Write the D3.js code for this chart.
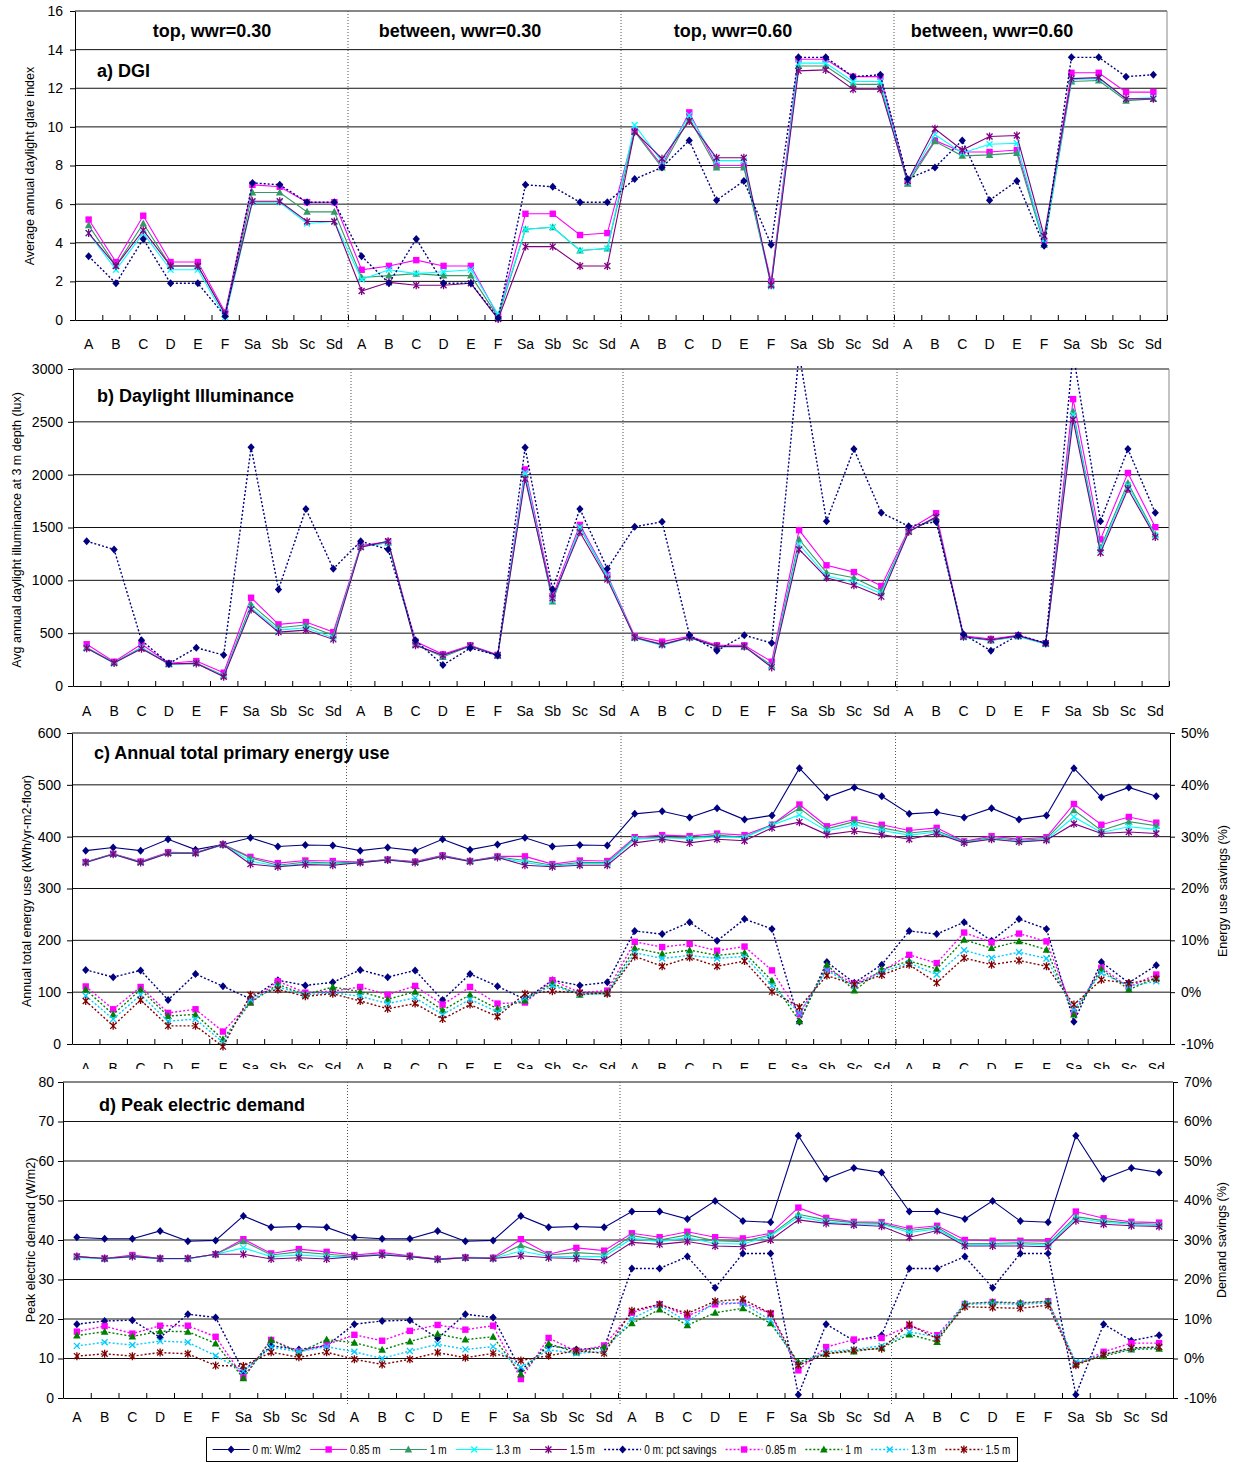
<!DOCTYPE html>
<html><head><meta charset="utf-8">
<script src="https://cdn.jsdelivr.net/npm/d3@7"></script>
<style>
body{margin:0;background:#fff;}
</style></head><body>
<svg id="chart" width="1238" height="1462"></svg>
<script>
// ---------- categories ----------
const cats = ["A","B","C","D","E","F","Sa","Sb","Sc","Sd"];
const groupTitles = ["top, wwr=0.30","between, wwr=0.30","top, wwr=0.60","between, wwr=0.60"];
const legendLabels = ["0 m: W/m2","0.85 m","1 m","1.3 m","1.5 m","0 m: pct savings","0.85 m","1 m","1.3 m","1.5 m"];

// ---------- a) DGI ----------
const dgi_085 = [5.2,3.0,5.4,3.0,3.0,0.4,7.0,6.9,6.1,6.1, 2.6,2.8,3.1,2.8,2.8,0.2,5.5,5.5,4.4,4.5, 9.8,8.0,10.75,8.0,8.0,2.0,13.5,13.5,12.6,12.6, 7.2,9.3,8.7,8.7,8.8,4.1,12.8,12.8,11.8,11.8];
const dgi_1   = [4.9,2.8,5.0,2.8,2.8,0.3,6.6,6.6,5.6,5.6, 2.2,2.3,2.4,2.3,2.3,0.15,4.7,4.8,3.6,3.7, 9.75,7.9,10.45,7.9,7.9,1.85,13.15,13.15,12.2,12.2, 7.05,9.25,8.5,8.55,8.65,3.9,12.35,12.4,11.35,11.45];
const dgi_13  = [4.5,2.6,4.5,2.6,2.6,0.15,6.1,6.1,5.0,5.1, 2.1,2.6,2.4,2.5,2.6,0.3,4.7,4.8,3.6,3.7, 10.1,8.2,10.6,8.25,8.25,1.75,13.3,13.3,12.35,12.35, 7.15,9.6,8.65,9.1,9.15,4.0,12.45,12.5,11.45,11.5];
const dgi_15  = [4.5,2.8,4.65,2.8,2.8,0.3,6.15,6.15,5.1,5.1, 1.5,1.95,1.8,1.8,1.9,0.05,3.8,3.8,2.8,2.8, 9.75,8.35,10.3,8.4,8.4,1.8,12.9,12.95,11.95,11.95, 7.2,9.9,8.8,9.5,9.55,4.35,12.5,12.55,11.45,11.45];
const dgi_ref = [3.3,1.9,4.2,1.9,1.9,0.2,7.1,7.0,6.1,6.1, 3.3,1.9,4.2,1.9,1.9,0.1,7.0,6.9,6.1,6.1, 7.3,7.9,9.3,6.2,7.2,3.9,13.6,13.6,12.6,12.7, 7.3,7.9,9.3,6.2,7.2,3.85,13.6,13.6,12.6,12.7];

// ---------- b) Daylight illuminance ----------
const ill_085 = [395,230,395,215,236,126,835,583,605,510, 1330,1365,420,300,385,295,2050,850,1525,1050, 470,420,470,385,385,230,1475,1142,1078,946, 1480,1635,475,445,480,405,2715,1387,2016,1503];
const ill_1   = [365,222,365,205,218,100,772,551,577,479, 1320,1355,395,275,378,285,2000,800,1497,1030, 460,395,460,372,372,195,1387,1073,1025,899, 1465,1590,465,430,470,400,2597,1308,1922,1434];
const ill_13  = [360,215,362,208,214,95,740,529,551,457, 1315,1355,390,285,380,285,2016,810,1500,1040, 455,385,458,372,372,185,1340,1041,984,875, 1462,1600,462,432,468,398,2570,1290,1897,1425];
const ill_15  = [358,218,353,210,214,88,725,510,529,441, 1314,1370,385,290,378,290,1960,830,1456,1009, 458,392,460,375,375,176,1292,1025,953,846, 1460,1600,465,437,475,403,2519,1261,1865,1409];
const ill_ref = [1370,1292,432,211,362,293,2259,914,1676,1109, 1370,1292,432,198,359,290,2257,915,1676,1110, 1507,1554,481,333,481,406,3150,1560,2242,1639, 1512,1554,490,333,481,406,3150,1560,2242,1639];

// ---------- c) Annual total primary energy use (kWh/yr-m2-floor) ----------
const energy_0   = [373,379,373,395,375,385,398,381,384,383, 373,379,373,395,375,385,398,381,384,383, 444,449,437,455,433,441,532,476,495,478, 444,447,437,455,433,441,532,476,495,478];
const energy_085 = [351,367,352,370,369,385,361,349,354,353, 351,356,352,364,353,362,362,347,354,353, 399,403,401,406,403,423,462,420,433,423, 412,417,391,401,395,399,463,423,438,427];
const energy_1   = [351,367,351,369,369,385,359,345,351,349, 351,356,351,363,353,361,354,345,350,350, 397,399,398,403,399,423,455,415,429,417, 407,412,390,398,393,396,451,412,429,421];
const energy_13  = [350,366,350,368,368,384,353,343,348,347, 350,355,350,362,352,360,350,343,348,348, 395,398,396,400,398,422,442,411,423,412, 403,409,389,396,391,394,438,408,419,414];
const energy_15  = [350,366,350,368,368,385,347,342,346,345, 350,355,350,362,352,360,345,342,345,345, 388,395,388,395,392,417,428,404,411,404, 395,406,388,395,390,393,425,406,409,406];
// energy savings (%)
const esave_0   = [4.3,2.9,4.2,-1.5,3.5,1.15,-1.3,2.3,1.3,1.9, 4.3,2.9,4.2,-1.5,3.5,1.15,-1.4,2.3,1.3,1.9, 11.8,11.2,13.5,9.9,14.1,12.2,-5.7,5.8,1.8,5.3, 11.8,11.2,13.5,9.9,14.1,12.2,-5.7,5.8,1.8,5.2];
const esave_085 = [1.1,-3.3,1.0,-4.0,-3.3,-7.6,-2.0,2.1,-0.1,0.2, 1.0,-0.5,1.2,-2.4,1.0,-2.2,-2.0,2.3,-0.1,0.3, 9.7,8.7,9.3,8.0,8.8,4.2,-4.2,4.5,1.6,4.0, 7.2,5.6,11.5,9.6,11.3,9.8,-4.0,4.7,1.0,3.4];
const esave_1   = [0.5,-4.3,0.5,-4.6,-4.3,-9.1,-2.0,1.5,-0.5,1.0, 0.1,-1.4,0.1,-3.5,-0.5,-3.2,-1.6,1.7,-0.5,-0.2, 8.5,7.4,8.1,7.1,7.6,2.2,-5.6,5.3,0.3,4.4, 6.0,4.5,10.1,8.5,9.8,8.2,-4.3,4.4,0.5,2.75];
const esave_13  = [-0.7,-5.2,-0.5,-5.6,-5.2,-9.7,-1.4,1.0,-0.5,-0.1, -0.8,-2.2,-1.1,-4.3,-1.4,-3.8,-1.1,1.2,-0.3,-0.3, 7.6,6.5,7.1,6.5,6.9,1.3,-4.0,4.2,1.2,3.9, 5.6,3.4,8.1,6.6,7.7,6.5,-3.3,3.7,1.2,2.1];
const esave_15  = [-1.7,-6.5,-1.5,-6.5,-6.5,-10.5,-0.5,0.5,-0.8,-0.3, -1.7,-3.2,-2.2,-5.2,-2.4,-4.7,-0.3,0.2,-0.1,-0.3, 6.9,5.0,6.7,5.0,6.0,0.1,-2.9,3.2,1.5,3.3, 5.3,1.8,6.6,5.3,6.1,5.0,-2.4,2.4,1.7,2.6];

// ---------- d) Peak electric demand (W/m2) ----------
const peak_0   = [40.7,40.3,40.3,42.3,39.7,39.9,46.1,43.2,43.4,43.2, 40.7,40.3,40.3,42.3,39.7,39.9,46.1,43.2,43.4,43.2, 47.2,47.2,45.3,49.9,44.8,44.5,66.4,55.5,58.2,57.1, 47.2,47.2,45.3,49.9,44.8,44.5,66.4,55.5,58.2,57.1];
const peak_085 = [35.8,35.3,36.2,35.3,35.3,36.4,40.2,36.6,37.7,37.0, 36.2,36.8,36.0,35.2,35.6,35.5,40.2,36.4,38.0,37.3, 41.7,40.7,42.1,40.7,40.4,41.7,48.2,45.6,44.6,44.5, 42.9,43.6,40.0,39.8,39.8,39.7,47.2,45.5,44.6,44.4];
const peak_1   = [35.8,35.3,36.0,35.3,35.3,36.4,39.7,36.2,37.0,36.4, 35.9,36.4,35.9,35.1,35.5,35.4,38.7,36.2,36.8,36.4, 41.1,40.0,41.3,39.8,39.6,41.3,46.5,45.1,44.4,44.2, 42.4,43.2,39.1,39.1,39.3,39.1,45.9,44.9,44.2,44.0];
const peak_13  = [35.6,35.2,35.8,35.2,35.2,36.4,38.0,35.8,36.2,35.8, 35.8,36.3,35.8,35.1,35.5,35.3,37.2,35.9,35.8,35.8, 40.4,39.6,40.6,39.1,39.0,41.0,45.9,44.6,44.0,44.0, 41.9,42.8,38.9,38.9,39.0,38.7,45.5,44.5,44.0,43.6];
const peak_15  = [35.8,35.3,35.8,35.3,35.3,36.4,36.4,35.2,35.5,35.2, 35.8,36.2,35.8,35.1,35.5,35.3,36.0,35.5,35.3,34.9, 39.4,38.9,39.6,38.5,38.3,40.0,45.1,44.2,43.8,43.5, 40.7,42.4,38.5,38.5,38.5,38.3,44.9,44.0,43.6,43.4];
// demand savings (%)
const dsave_0   = [8.7,9.5,9.7,5.3,11.2,10.4,-3.2,3.2,2.3,3.2, 8.7,9.5,9.7,5.1,11.2,10.4,-3.0,3.2,2.3,2.7, 22.8,22.8,25.8,17.9,26.6,26.6,-9.2,8.7,4.5,5.9, 22.8,22.8,25.8,17.9,26.6,26.6,-9.2,8.7,4.5,5.9];
const dsave_085 = [6.8,8.2,6.3,8.3,8.3,5.5,-4.7,4.7,1.8,3.5, 6.0,4.5,7.0,8.5,7.3,8.3,-5.2,5.2,1.8,3.3, 11.6,13.7,10.8,13.7,14.1,11.4,-3.0,2.9,4.8,5.2, 8.3,5.9,13.8,14.3,13.9,14.5,-1.5,1.7,3.9,3.9];
const dsave_1   = [5.8,6.8,5.6,6.9,6.8,3.8,-5.0,4.7,1.5,4.8, 4.0,2.2,4.3,6.2,4.8,5.5,-4.0,3.8,1.5,2.9, 8.9,12.4,8.4,11.6,12.7,8.9,-0.9,1.2,1.8,2.7, 6.1,4.2,13.9,14.3,14.1,14.5,-1.3,0.6,2.3,2.5];
const dsave_13  = [3.2,4.1,3.4,4.4,4.1,0.7,-3.2,2.9,1.7,3.0, 1.7,0.0,1.9,3.6,2.3,3.0,-2.2,2.2,1.3,1.8, 10.1,13.5,9.3,14.3,13.9,9.7,-1.5,1.7,2.3,3.2, 6.7,5.5,13.7,13.9,13.7,14.1,-0.9,1.0,2.5,2.9];
const dsave_15  = [0.6,1.2,0.6,1.5,1.2,-1.8,-1.9,1.6,0.3,1.6, -0.2,-1.5,-0.2,1.5,0.2,1.3,-0.5,0.7,2.0,1.3, 12.1,13.7,11.4,14.5,15.0,11.4,-1.7,1.2,2.1,2.5, 8.6,5.0,13.1,12.9,12.7,13.5,-1.7,1.0,2.7,2.9];

// ---------- styles ----------
const NARROW = "'Liberation Sans Narrow','Arial Narrow','Liberation Sans',Arial,sans-serif";
const BOLD = "'Liberation Sans',Arial,sans-serif";
const ST = {
  s0:  {color:"#000080", marker:"diamond", dash:null},
  s085:{color:"#FF00FF", marker:"square",  dash:null},
  s1:  {color:"#339966", marker:"triangle",dash:null},
  s13: {color:"#00FFFF", marker:"x",       dash:null},
  s15: {color:"#800080", marker:"star",    dash:null},
  p0:  {color:"#000080", marker:"diamond", dash:"2,2"},
  p085:{color:"#FF00FF", marker:"square",  dash:"2,2"},
  p1:  {color:"#008000", marker:"triangle",dash:"2,2"},
  p13: {color:"#00CCFF", marker:"x",       dash:"2,2"},
  p15: {color:"#800000", marker:"star",    dash:"2,2"}
};
const legendStyles = ["s0","s085","s1","s13","s15","p0","p085","p1","p13","p15"];

const svg = d3.select("#chart");
svg.append("rect").attr("width",1238).attr("height",1462).attr("fill","#fff");

function marker(g, type, cx, cy, color){
  if(type==="diamond"){
    g.append("path").attr("d",`M${cx},${cy-4}L${cx+3.6},${cy}L${cx},${cy+4}L${cx-3.6},${cy}Z`).attr("fill",color);
  } else if(type==="square"){
    g.append("rect").attr("x",cx-3.2).attr("y",cy-3.2).attr("width",6.4).attr("height",6.4).attr("fill",color);
  } else if(type==="triangle"){
    g.append("path").attr("d",`M${cx},${cy-4}L${cx+3.8},${cy+3}L${cx-3.8},${cy+3}Z`).attr("fill",color);
  } else if(type==="x"){
    g.append("path").attr("d",`M${cx-3},${cy-3}L${cx+3},${cy+3}M${cx-3},${cy+3}L${cx+3},${cy-3}`).attr("stroke",color).attr("stroke-width",1.3).attr("fill","none");
  } else if(type==="star"){
    g.append("path").attr("d",`M${cx-3},${cy-3}L${cx+3},${cy+3}M${cx-3},${cy+3}L${cx+3},${cy-3}M${cx},${cy-4}L${cx},${cy+4}`).attr("stroke",color).attr("stroke-width",1.3).attr("fill","none");
  }
}

let clipId = 0;
function drawPanel(p){
  const g = svg.append("g");
  const x = d3.scaleBand().domain(d3.range(40)).range([p.x0,p.x1]);
  const xc = i => x(i) + x.bandwidth()/2;
  const xb = d3.scaleLinear().domain([0,40]).range([p.x0,p.x1]);
  const y = d3.scaleLinear().domain(p.yDomain).range([p.yBot,p.yTop]);
  const y2 = p.y2Domain ? d3.scaleLinear().domain(p.y2Domain).range([p.yBot,p.yTop]) : null;

  // gridlines
  g.append("g").selectAll("line").data(p.yTicks.filter(v=>v!==p.yDomain[0])).join("line")
    .attr("x1",p.x0).attr("x2",p.x1).attr("y1",d=>y(d)).attr("y2",d=>y(d))
    .attr("stroke","#111").attr("stroke-width",1);
  if(!y2){
    g.append("line").attr("x1",p.x1).attr("x2",p.x1).attr("y1",p.yTop).attr("y2",p.yBot).attr("stroke","#888").attr("stroke-width",1);
  }
  // dividers
  [10,20,30].forEach((k,j)=>{
    const dx = xb(k) + (p.divShift ? p.divShift[j] : 0);
    g.append("line").attr("x1",dx).attr("x2",dx).attr("y1",p.yTop).attr("y2",p.yBot+7)
      .attr("stroke","#555").attr("stroke-width",1).attr("stroke-dasharray","1,2");
  });

  // left y axis
  const gy = g.append("g").attr("transform",`translate(${p.x0},0)`);
  gy.call(d3.axisLeft(y).tickValues(p.yMinor).tickSize(3).tickSizeOuter(0).tickFormat(""));
  gy.call(d3.axisLeft(y).tickValues(p.yTicks).tickSize(5).tickSizeOuter(0).tickPadding(p.tickPad).tickFormat(p.yFmt));
  gy.selectAll("text").attr("font-family",NARROW).attr("font-size",14).attr("fill","#000");
  gy.selectAll("line,path").attr("stroke","#000");
  // right axis
  if(y2){
    const gr = g.append("g").attr("transform",`translate(${p.x1},0)`);
    gr.call(d3.axisRight(y2).tickValues(p.y2Minor).tickSize(3).tickSizeOuter(0).tickFormat(""));
    gr.call(d3.axisRight(y2).tickValues(p.y2Ticks).tickSize(5).tickSizeOuter(0).tickPadding(6).tickFormat(d=>d+"%"));
    gr.selectAll("text").attr("font-family",NARROW).attr("font-size",14).attr("fill","#000");
    gr.selectAll("line,path").attr("stroke","#000");
  }
  // x axis (ticks at category boundaries, pointing up)
  const gx = g.append("g").attr("transform",`translate(0,${p.yBot})`);
  gx.call(d3.axisBottom(xb).tickValues(d3.range(0,41)).tickSize(-5).tickSizeOuter(0).tickFormat(""));
  gx.selectAll("line,path").attr("stroke","#000");

  // x labels
  let lg = g.append("g");
  if(p.labelClip){
    const id = "clip"+(clipId++);
    svg.append("clipPath").attr("id",id).append("rect").attr("x",0).attr("y",0).attr("width",1238).attr("height",p.labelClip);
    lg.attr("clip-path",`url(#${id})`);
  }
  lg.selectAll("text").data(d3.range(40)).join("text")
    .attr("x",xc).attr("y",p.yBot+p.labelDy).attr("text-anchor","middle")
    .attr("font-family",NARROW).attr("font-size",14).attr("fill","#000")
    .text(i=>cats[i%10]);

  // axis titles
  g.append("text").attr("transform",`translate(${p.yTitleX},${p.yTitleY}) rotate(-90)`)
    .attr("text-anchor","middle").attr("font-family",NARROW).attr("font-size",12.5).attr("fill","#000").text(p.yTitle);
  if(p.y2Title){
    g.append("text").attr("transform",`translate(${p.y2TitleX},${p.yTitleY}) rotate(-90)`)
      .attr("text-anchor","middle").attr("font-family",NARROW).attr("font-size",12.5).attr("fill","#000").text(p.y2Title);
  }
  // panel title
  g.append("text").attr("x",p.titleX).attr("y",p.titleY).attr("font-family",BOLD).attr("font-weight","bold")
    .attr("font-size",18).attr("fill","#000").text(p.title);

  // series
  let sg = g.append("g");
  if(p.clip){
    const id = "clip"+(clipId++);
    svg.append("clipPath").attr("id",id).append("rect").attr("x",p.x0-10).attr("y",p.yTop-3).attr("width",p.x1-p.x0+20).attr("height",p.yBot-p.yTop+30);
    sg.attr("clip-path",`url(#${id})`);
  }
  p.series.forEach(s=>{
    const st = ST[s.style];
    const sc = s.axis===2 ? y2 : y;
    const line = d3.line().x((d,i)=>xc(i)).y(d=>sc(d));
    sg.append("path").datum(s.values).attr("d",line).attr("fill","none")
      .attr("stroke",st.color).attr("stroke-width",st.dash?1.4:1.1)
      .attr("stroke-dasharray",st.dash);
    const mg = sg.append("g");
    s.values.forEach((v,i)=>marker(mg,st.marker,xc(i),sc(v),st.color));
  });
  return g;
}

// ---------- panels ----------
drawPanel({
  x0:75,x1:1167,yTop:11,yBot:320,yDomain:[0,16],yTicks:d3.range(0,17,2),yMinor:d3.range(0,16.01,0.4),
  tickPad:7,yFmt:d=>d,labelDy:29,labelClip:null,
  yTitle:"Average annual daylight glare index",yTitleX:34,yTitleY:166,
  title:"a) DGI",titleX:97,titleY:77,clip:false,
  series:[{style:"s085",values:dgi_085},{style:"s1",values:dgi_1},{style:"s13",values:dgi_13},{style:"s15",values:dgi_15},{style:"p0",values:dgi_ref}]
});
const titleXs = [212,460,733,992];
groupTitles.forEach((t,k)=>{
  svg.append("text").attr("x",titleXs[k]).attr("y",37).attr("text-anchor","middle")
    .attr("font-family",BOLD).attr("font-weight","bold").attr("font-size",18).attr("fill","#000").text(t);
});

drawPanel({
  x0:73,x1:1169,yTop:369,yBot:686,yDomain:[0,3000],yTicks:d3.range(0,3001,500),yMinor:d3.range(0,3001,100),
  tickPad:5,yFmt:d=>d,labelDy:30,labelClip:null,divShift:[4,2,2],
  yTitle:"Avg annual daylight illuminance at 3 m depth (lux)",yTitleX:21,yTitleY:530,
  title:"b) Daylight Illuminance",titleX:97,titleY:402,clip:true,
  series:[{style:"s085",values:ill_085},{style:"s1",values:ill_1},{style:"s13",values:ill_13},{style:"s15",values:ill_15},{style:"p0",values:ill_ref}]
});

drawPanel({
  x0:72,x1:1170,yTop:733,yBot:1044,yDomain:[0,600],yTicks:d3.range(0,601,100),yMinor:d3.range(0,601,20),
  y2Domain:[-10,50],y2Ticks:d3.range(-10,51,10),y2Minor:d3.range(-10,51,2),
  tickPad:6,yFmt:d=>d,labelDy:29,labelClip:1069,
  yTitle:"Annual total energy use (kWh/yr-m2-floor)",yTitleX:31,yTitleY:891,
  y2Title:"Energy use savings (%)",y2TitleX:1227,
  title:"c) Annual total primary energy use",titleX:94,titleY:759,clip:false,
  series:[{style:"s0",values:energy_0},{style:"s085",values:energy_085},{style:"s1",values:energy_1},{style:"s13",values:energy_13},{style:"s15",values:energy_15},
          {style:"p0",values:esave_0,axis:2},{style:"p085",values:esave_085,axis:2},{style:"p1",values:esave_1,axis:2},{style:"p13",values:esave_13,axis:2},{style:"p15",values:esave_15,axis:2}]
});

drawPanel({
  x0:63,x1:1173,yTop:1082,yBot:1398,yDomain:[0,80],yTicks:d3.range(0,81,10),yMinor:d3.range(0,81,2),
  y2Domain:[-10,70],y2Ticks:d3.range(-10,71,10),y2Minor:d3.range(-10,71,2),
  tickPad:4,yFmt:d=>d,labelDy:24,labelClip:null,divShift:[7,2,-4],
  yTitle:"Peak electric demand  (W/m2)",yTitleX:35,yTitleY:1240,
  y2Title:"Demand savings (%)",y2TitleX:1226,
  title:"d) Peak electric demand",titleX:99,titleY:1111,clip:false,
  series:[{style:"s0",values:peak_0},{style:"s085",values:peak_085},{style:"s1",values:peak_1},{style:"s13",values:peak_13},{style:"s15",values:peak_15},
          {style:"p0",values:dsave_0,axis:2},{style:"p085",values:dsave_085,axis:2},{style:"p1",values:dsave_1,axis:2},{style:"p13",values:dsave_13,axis:2},{style:"p15",values:dsave_15,axis:2}]
});

// ---------- legend ----------
const lgX0 = 206, lgX1 = 1017, lgY0 = 1437, lgY1 = 1461;
const lg = svg.append("g");
lg.append("rect").attr("x",lgX0+0.5).attr("y",lgY0+0.5).attr("width",lgX1-lgX0).attr("height",lgY1-lgY0)
  .attr("fill","#fff").attr("stroke","#000").attr("stroke-width",1);
const lineLen = 37, gapTxt = 3, squeeze = 0.8;
const texts = legendLabels.map(t=>lg.append("text").attr("font-family",NARROW).attr("font-size",12.5).attr("fill","#000").text(t));
const widths = texts.map(t=>t.node().getComputedTextLength()*squeeze);
texts.forEach((t,k)=>t.attr("textLength",widths[k]).attr("lengthAdjust","spacingAndGlyphs"));
const totalItems = d3.sum(widths) + legendLabels.length*(lineLen+gapTxt);
const gap = ((lgX1-lgX0-4) - totalItems)/legendLabels.length;
let cx = lgX0 + 2 + gap/2;
const ly = (lgY0+lgY1)/2+0.5;
legendLabels.forEach((t,k)=>{
  const st = ST[legendStyles[k]];
  lg.append("line").attr("x1",cx).attr("x2",cx+lineLen).attr("y1",ly).attr("y2",ly)
    .attr("stroke",st.color).attr("stroke-width",st.dash?1.4:1.1).attr("stroke-dasharray",st.dash);
  marker(lg,st.marker,cx+lineLen/2,ly,st.color);
  texts[k].attr("x",cx+lineLen+gapTxt).attr("y",ly+4.5);
  cx += lineLen + gapTxt + widths[k] + gap;
});
</script></body></html>
